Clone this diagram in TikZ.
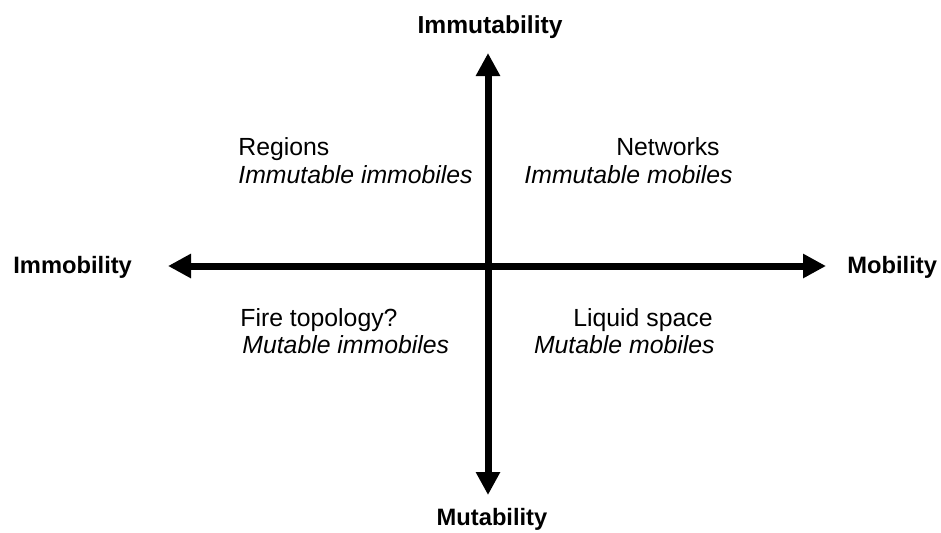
\documentclass[tikz,border=0pt]{standalone}
\usepackage{fontspec}
\setmainfont{Liberation Sans}
\usetikzlibrary{arrows.meta}
\begin{document}
\begin{tikzpicture}[x=0.5pt,y=-0.5pt,
  axis/.style={line width=3.5pt,{Triangle[length=11.5pt,width=11.5pt]}-{Triangle[length=11.5pt,width=11.5pt]}},
  lab/.style={inner sep=0pt,font=\fontsize{12.4}{15}\selectfont},
  axlab/.style={inner sep=0pt,font=\fontsize{11.85}{15}\selectfont\bfseries},
  toplab/.style={inner sep=0pt,font=\fontsize{12.3}{15}\selectfont\bfseries},
  it/.style={lab,font=\fontsize{12.4}{15}\selectfont\itshape}]
\useasboundingbox[fill=white] (0,0) rectangle (941,532);
\coordinate (top) at (488,53);
\coordinate (bot) at (488,495);
\coordinate (left) at (168,266);
\coordinate (right) at (826,266);
\draw[axis] (bot) -- (top);
\draw[axis] (left) -- (right);
\node[toplab,anchor=base] (ttop) at (490,33) {Immutability};
\node[axlab,anchor=base] (tbot) at (492,525) {Mutability};
\node[axlab,anchor=base west] (tleft) at (13,273) {Immobility};
\node[axlab,anchor=base west] (tright) at (847,273) {Mobility};
\node[lab,anchor=base west] (r1) at (238,155) {Regions};
\node[it,anchor=base west] (r2) at (238,183) {Immutable immobiles};
\node[lab,anchor=base east] (n1) at (720,155) {Networks};
\node[it,anchor=base east] (n2) at (733,183) {Immutable mobiles};
\node[lab,anchor=base west] (f1) at (240,326) {Fire topology?};
\node[it,anchor=base west] (f2) at (242,353) {Mutable immobiles};
\node[lab,anchor=base east] (l1) at (713,326) {Liquid space};
\node[it,anchor=base east] (l2) at (715,353) {Mutable mobiles};
\end{tikzpicture}
\end{document}
